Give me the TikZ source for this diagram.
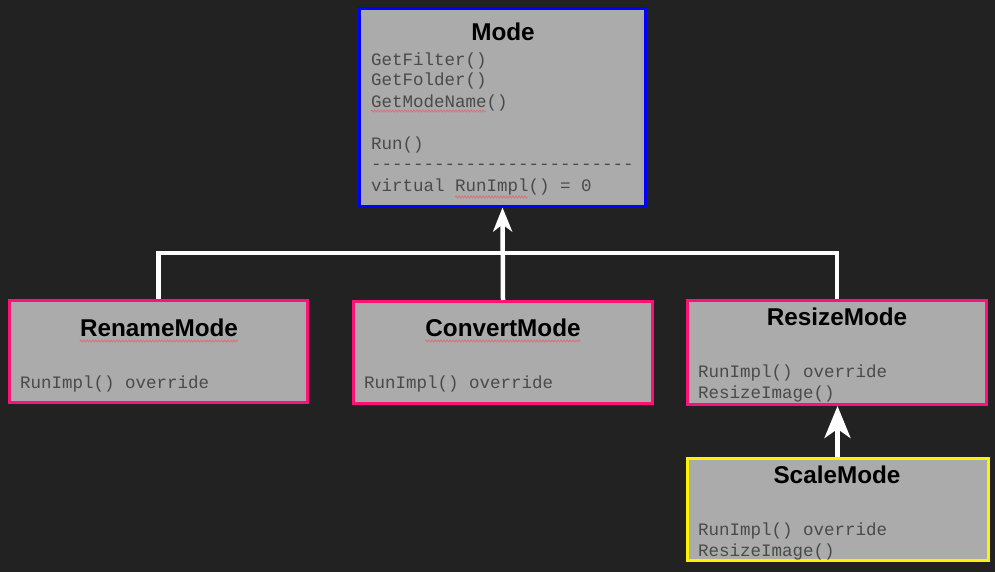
\documentclass[tikz,border=0pt]{standalone}
\usepackage{fontspec}
\setmainfont{Liberation Sans}
\setmonofont{Liberation Mono}
\usetikzlibrary{arrows.meta}
\usetikzlibrary{decorations.pathmorphing}

\definecolor{bgdark}{HTML}{222222}
\definecolor{boxgray}{HTML}{ABABAB}
\definecolor{codegray}{HTML}{4A4A4A}
\definecolor{pinkline}{HTML}{FF1277}
\definecolor{squig}{HTML}{D9707A}

\tikzset{
  classbox/.style={draw, line width=3pt, fill=boxgray, inner sep=0pt},
  classname/.style={anchor=base, inner sep=0pt, text=black,
    font=\fontsize{24.3}{28}\selectfont\bfseries},
  members/.style={anchor=base west, inner sep=0pt, align=left, text=codegray,
    font=\fontsize{17.5}{21}\selectfont\ttfamily},
  link/.style={draw=white, line width=4.5pt},
  spell/.style={draw=squig, line width=0.8pt, decorate,
    decoration={snake,amplitude=1pt,segment length=3pt}}
}

\begin{document}
\begin{tikzpicture}[x=1pt,y=-1pt]
        \fill[bgdark] (0,0) rectangle (995,572);
        \useasboundingbox (0,0) rectangle (995,572);

        % boxes
        \node[classbox, draw=blue, minimum width=286pt, minimum height=197pt] (mode) at (502.5,107.5) {};
        \node[classbox, draw=pinkline, minimum width=298pt, minimum height=102pt] (rename) at (158.5,351.5) {};
        \node[classbox, draw=pinkline, minimum width=299pt, minimum height=102pt] (convert) at (503,352.5) {};
        \node[classbox, draw=pinkline, minimum width=299pt, minimum height=104pt] (resize) at (837,352.5) {};
        \node[classbox, draw=yellow, minimum width=301pt, minimum height=102pt] (scale) at (837.5,509.5) {};

        % texts (members: anchored at the baseline of the last line)
        \node[classname] (modeT) at (503,41) {Mode};
        \node[members] (modeM) at (371,191) {GetFilter()\\GetFolder()\\GetModeName()\\[21pt]Run()\\-------------------------\\virtual RunImpl() = 0};

        \node[classname] (renameT) at (159,336) {RenameMode};
        \node[members] (renameM) at (20,388) {RunImpl() override};

        \node[classname] (convertT) at (503,336) {ConvertMode};
        \node[members] (convertM) at (364,388) {RunImpl() override};

        \node[classname] (resizeT) at (837,325) {ResizeMode};
        \node[members] (resizeM) at (698,398) {RunImpl() override\\ResizeImage()};

        \node[classname] (scaleT) at (837,483) {ScaleMode};
        \node[members] (scaleM) at (698,556) {RunImpl() override\\ResizeImage()};

        % spell check marks
        \draw[spell] ([yshift=-5pt]renameT.base west) -- ([yshift=-5pt]renameT.base east);
        \draw[spell] ([yshift=-5pt]convertT.base west) -- ([yshift=-5pt]convertT.base east);
        \draw[spell] (371,111) -- (486,111);
        \draw[spell] (455,197) -- (528,197);

        % connectors
        \coordinate (bus) at (502,253);
        \draw[link] (rename.north) -- (rename.north |- bus) -- (resize.north |- bus) -- (resize.north);
        \draw[link, -{Stealth[length=24pt,width=19pt,inset=7pt]}] (convert.north) -- (mode.south);
        \draw[link, -{Stealth[length=32pt,width=26pt,inset=9pt]}] (scale.north) -- (scale.north |- resize.south);
\end{tikzpicture}
\end{document}
